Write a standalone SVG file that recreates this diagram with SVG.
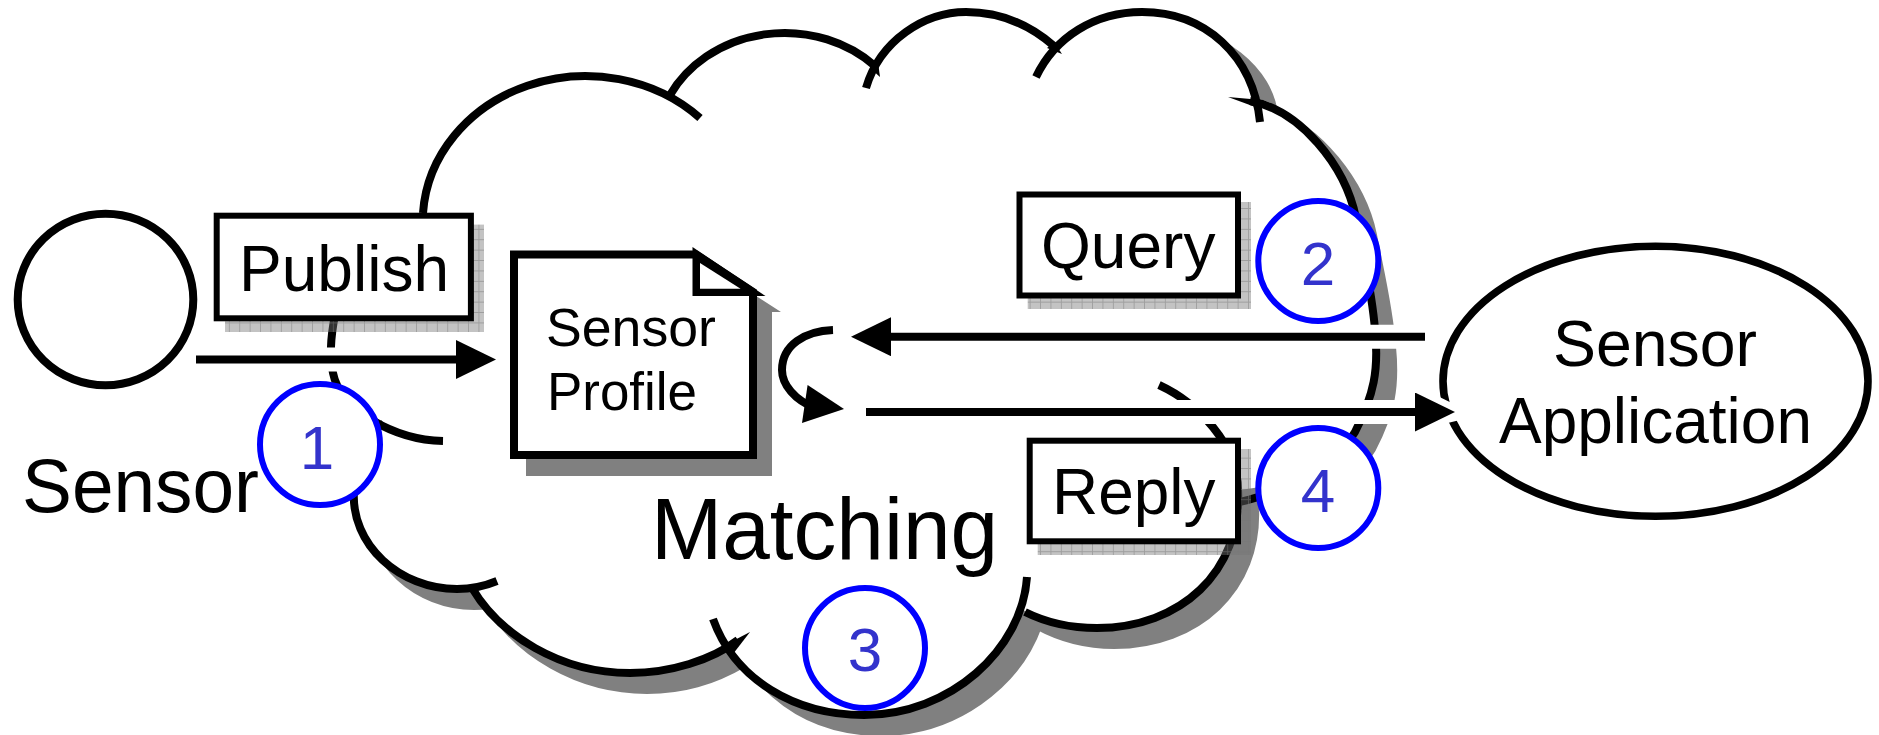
<svg xmlns="http://www.w3.org/2000/svg" xmlns:xlink="http://www.w3.org/1999/xlink" width="1879" height="735" viewBox="0 0 1879 735">
<style>
text{font-family:"Liberation Sans",Arial,sans-serif;fill:#000}
.ink{fill:none;stroke:#000;stroke-width:8}
.tip{fill:#000;stroke:none}
.halo{fill:none;stroke:#fff;stroke-width:24}
.box{fill:#fff;stroke:#000;stroke-width:6}
.hatch{fill:url(#grid)}
.num{fill:#fff;stroke:#00f;stroke-width:6}
.digit{fill:#33c;font-size:62px;text-anchor:middle}
.line{fill:none;stroke:#000;stroke-width:8}
.arrow{marker-end:url(#head)}
.l{font-size:65px}
.s{font-size:54px}
</style>
<defs>
<marker id="head" markerUnits="userSpaceOnUse" markerWidth="41" markerHeight="40" refX="0" refY="19.5" orient="auto"><path d="M0 0L40 19.5L0 39Z"/></marker>
<pattern id="grid" patternUnits="userSpaceOnUse" width="10.4" height="10.4" x="1" y="1">
<rect width="10.4" height="10.4" fill="#747474" fill-opacity=".43"/>
<path d="M10 0V10.4M0 10H10.4" stroke="#777" stroke-opacity=".5" stroke-width="1"/>
</pattern>
<path id="outline" d="M423 213A163 146 0 0 1 670 97A129 115 0 0 1 872 64C900 30 930 12 966 12C1000 12 1030 25 1048 44C1075 22 1105 12 1142 12C1205 12 1253 55 1257 98C1300 110 1345 165 1356 218C1362 250 1372 290 1375 330C1379 370 1374 395 1355 432C1335 465 1290 485 1238 490C1242 572 1180 628 1097 628C1070 628 1045 622 1021 609C1000 668 937 715 864 715C809 715 763 693 729 645C695 665 665 673 630 673C560 673 500 635 472 588C465 589 460 589 457 589C400 589 350 545 354 490L356 470L345 387C335 375 329 355 333 320Z"/>
</defs>
<g id="cloud">
<use xlink:href="#outline" href="#outline" transform="translate(17 17)" fill="#808080" stroke="#808080" stroke-width="8"/>
<use xlink:href="#outline" href="#outline" fill="#fff"/>
<path class="ink" d="M423 213A163 146 0 0 1 700 118"/>
<path class="ink" d="M670 95A129 115 0 0 1 875 66"/>
<path class="ink" d="M866 88C880 40 925 12 966 12C1000 12 1030 25 1054 46"/>
<path class="ink" d="M1036 77C1055 37 1095 12 1142 12C1205 12 1253 55 1260 122"/>
<path class="ink" d="M1250 101C1300 110 1345 165 1356 218C1362 250 1372 290 1375 330C1379 370 1374 395 1355 432C1335 465 1290 493 1225 505"/>
<path class="ink" d="M1159 385C1198 403 1238 445 1238 490C1242 572 1180 628 1097 628C1070 628 1045 622 1025 612"/>
<path class="ink" d="M713 619C735 680 795 715 864 715C950 715 1022 650 1027 577"/>
<path class="ink" d="M738 640C712 660 670 673 630 673C560 673 500 635 472 588"/>
<path class="ink" d="M497 581C485 586 470 589 457 589C400 589 350 545 354 490L356 470"/>
<path class="ink" d="M335 315C331 335 329 355 333 373C340 410 395 440 443 441"/>
<polygon class="tip" points="870,68 878,62 880,77"/>
<polygon class="tip" points="1047,48 1054,42 1062,54"/>
<polygon class="tip" points="1228,97 1262,100 1258,108"/>
<polygon class="tip" points="750,632 727,644 733,654"/>
<polygon class="tip" points="381,420 378,430 388,428"/>
</g>
<g id="sensor"><ellipse cx="105.5" cy="299.5" rx="87.8" ry="85.8" fill="#fff" stroke="#000" stroke-width="8"/></g>
<text id="sensor-label" x="22" y="512" style="font-size:76px" textLength="237" lengthAdjust="spacingAndGlyphs">Sensor</text>
<g id="application">
<ellipse cx="1655.5" cy="381.3" rx="212.5" ry="135" fill="#fff" stroke="#000" stroke-width="7.6"/>
<text x="1553" y="366" style="font-size:64.4px">Sensor</text>
<text x="1499" y="442.7" style="font-size:64.4px" textLength="313" lengthAdjust="spacingAndGlyphs">Application</text>
</g>
<g id="profile">
<polygon points="526,296 756,296 781,312 772,312 772,476 526,476" fill="#808080"/>
<path d="M514 254.5H696L753 292V455H514Z" fill="#fff" stroke="#000" stroke-width="8"/>
<path d="M692.5 247L765.5 296H692.5Z" fill="#000"/>
<path d="M700 263L740.6 288.7H700Z" fill="#fff"/>
<text class="s" x="546" y="346" textLength="170" lengthAdjust="spacingAndGlyphs">Sensor</text>
<text class="s" x="547" y="410" textLength="150" lengthAdjust="spacingAndGlyphs">Profile</text>
</g>
<g id="connectors">
<path class="halo" d="M196 359.6H456"/>
<path class="halo" d="M891 336.7H1424"/>
<path class="halo" d="M866 412H1415"/>
<polygon points="1415,385 1462,408 1460,420 1415,431" fill="#fff"/>
<path class="line arrow" d="M196 359.6H456"/>
<path class="line arrow" d="M1425 336.7H891"/>
<path class="line arrow" d="M866 412H1415"/>
<path class="line" d="M833 330C805 331 782 345 782 370C782 385 795 400 815 408"/>
<polygon class="tip" points="844,409 807.6,385 802,423"/>
</g>
<g id="publish">
<rect class="hatch" x="225" y="224.6" width="259" height="107.4"/>
<rect class="box" x="216.7" y="215.7" width="254.2" height="102.6"/>
<text x="239" y="290.7" style="font-size:65px" textLength="210" lengthAdjust="spacingAndGlyphs">Publish</text>
</g>
<g id="query">
<rect class="hatch" x="1027.7" y="202" width="223.3" height="107"/>
<rect class="box" x="1019.5" y="194.5" width="218.5" height="101"/>
<text x="1041" y="268" style="font-size:65px" textLength="174.5" lengthAdjust="spacingAndGlyphs">Query</text>
</g>
<g id="reply">
<rect class="hatch" x="1037.7" y="449" width="213.3" height="106"/>
<rect class="box" x="1029.7" y="440.7" width="208.3" height="100.6"/>
<text x="1052" y="514" style="font-size:65px" textLength="163.5" lengthAdjust="spacingAndGlyphs">Reply</text>
</g>
<text id="matching" x="651" y="559" style="font-size:87px" textLength="347" lengthAdjust="spacingAndGlyphs">Matching</text>
<g id="step1"><ellipse class="num" cx="320" cy="444.5" rx="60" ry="60.5"/><text class="digit" x="317" y="468.6">1</text></g>
<g id="step2"><ellipse class="num" cx="1318.3" cy="261" rx="60" ry="60"/><text class="digit" x="1318" y="285">2</text></g>
<g id="step3"><ellipse class="num" cx="865" cy="648" rx="60" ry="60"/><text class="digit" x="865" y="671">3</text></g>
<g id="step4"><ellipse class="num" cx="1318.3" cy="488" rx="60" ry="60"/><text class="digit" x="1318" y="511.7">4</text></g>
</svg>
